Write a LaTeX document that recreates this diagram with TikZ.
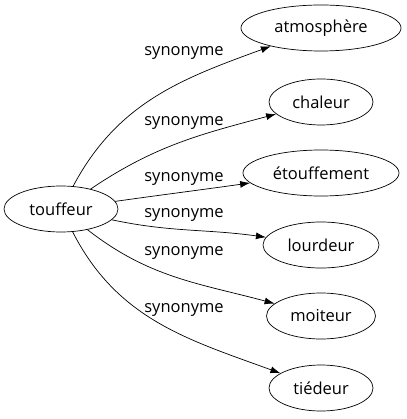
\documentclass[tikz,border=0pt]{standalone}
\usepackage{fontspec}
\setmainfont{Open Sans}
\usetikzlibrary{shapes.geometric,arrows.meta}

\tikzset{
  word/.style={draw, ellipse, inner sep=0pt, line width=0.7pt, minimum height=46pt, font=\fontsize{16.5}{18}\selectfont},
  rel/.style={font=\fontsize{16.5}{18}\selectfont},
  syn/.style={-{Latex[length=10pt,width=7pt]}, line width=0.7pt}
}

\begin{document}
\begin{tikzpicture}[x=1pt, y=1pt]
  \useasboundingbox (0,0) rectangle (406,-419);

  % source word
  \node[word, minimum width=114pt] (touffeur) at (61,-209) {touffeur};

  % synonyms
  \foreach \n/\txt/\w/\y in {atm/atmosphère/160/28, cha/chaleur/104/102, eto/étouffement/156/173,
                              lou/lourdeur/116/245, moi/moiteur/109/316, tie/tiédeur/104/388} {
    \node[word, minimum width=\w pt] (\n) at (321,-\y) {\txt};
  }

  % edges and labels
  \foreach \n/\a/\b/\ly in {atm/62/200/53, cha/34/195/123, eto/8/188/179,
                             lou/-12/172/215, moi/-38/165/253, tie/-63/160/310} {
    \draw[syn] (touffeur) to[out=\a, in=\b] (\n);
    \node[rel] (l\n) at (184,-\ly) {synonyme};
  }
\end{tikzpicture}
\end{document}
